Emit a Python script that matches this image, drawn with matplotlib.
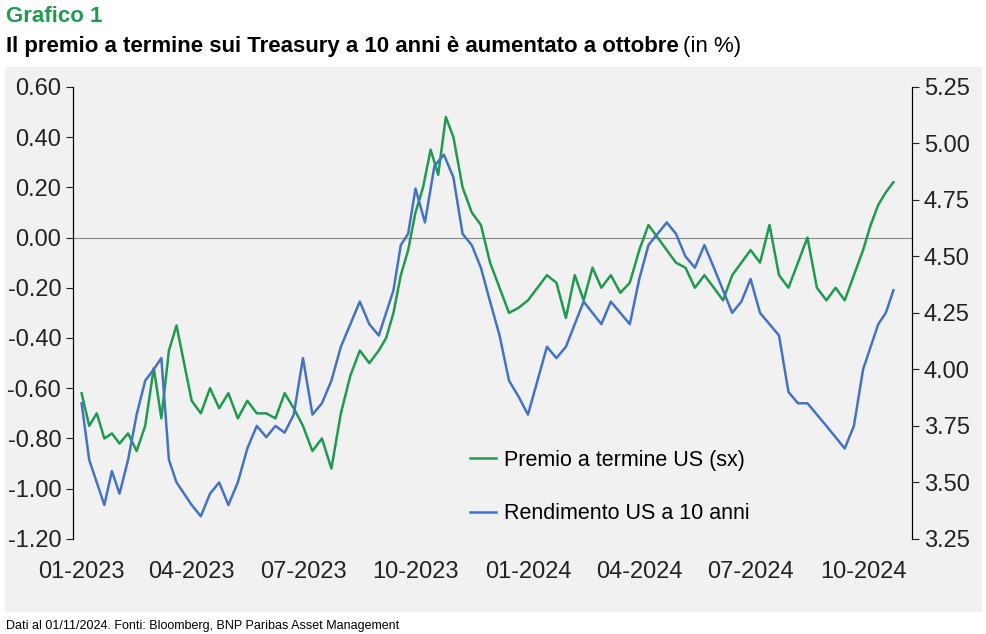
import matplotlib
matplotlib.use("Agg")
import matplotlib.pyplot as plt
import matplotlib.dates as mdates
import matplotlib.patches as mpatches
import pandas as pd

months = ["2023-01", "2023-02", "2023-03", "2023-04", "2023-05", "2023-06", "2023-07", "2023-08",
          "2023-09", "2023-10", "2023-11", "2023-12", "2024-01", "2024-02", "2024-03", "2024-04",
          "2024-05", "2024-06", "2024-07", "2024-08", "2024-09", "2024-10"]

premio = [
    [-0.62, -0.75, -0.70, -0.80, -0.78],
    [-0.82, -0.78, -0.85, -0.75],
    [-0.52, -0.72, -0.45, -0.35, -0.50],
    [-0.65, -0.70, -0.60, -0.68],
    [-0.62, -0.72, -0.65, -0.70],
    [-0.70, -0.72, -0.62, -0.68],
    [-0.75, -0.85, -0.80, -0.92],
    [-0.70, -0.55, -0.45, -0.50],
    [-0.45, -0.40, -0.30, -0.15, -0.05],
    [0.10, 0.20, 0.35, 0.25, 0.48],
    [0.40, 0.20, 0.10, 0.05],
    [-0.10, -0.20, -0.30, -0.28],
    [-0.25, -0.20, -0.15, -0.18],
    [-0.32, -0.15, -0.25, -0.12],
    [-0.20, -0.15, -0.22, -0.18],
    [-0.05, 0.05, 0.00, -0.05],
    [-0.10, -0.12, -0.20, -0.15],
    [-0.20, -0.25, -0.15, -0.10],
    [-0.05, -0.10, 0.05, -0.15],
    [-0.20, -0.10, 0.00, -0.20],
    [-0.25, -0.20, -0.25, -0.15],
    [-0.05, 0.05, 0.13, 0.18, 0.22],
]

rendimento = [
    [3.85, 3.60, 3.50, 3.40, 3.55],
    [3.45, 3.60, 3.80, 3.95],
    [4.00, 4.05, 3.60, 3.50, 3.45],
    [3.40, 3.35, 3.45, 3.50],
    [3.40, 3.50, 3.65, 3.75],
    [3.70, 3.75, 3.72, 3.80],
    [4.05, 3.80, 3.85, 3.95],
    [4.10, 4.20, 4.30, 4.20],
    [4.15, 4.25, 4.35, 4.55, 4.60],
    [4.80, 4.65, 4.90, 4.95],
    [4.85, 4.60, 4.55, 4.45],
    [4.30, 4.15, 3.95, 3.88],
    [3.80, 3.95, 4.10, 4.05],
    [4.10, 4.20, 4.30, 4.25],
    [4.20, 4.30, 4.25, 4.20],
    [4.40, 4.55, 4.60, 4.65],
    [4.60, 4.50, 4.45, 4.55],
    [4.45, 4.35, 4.25, 4.30],
    [4.40, 4.25, 4.20, 4.15],
    [3.90, 3.85, 3.85, 3.80],
    [3.75, 3.70, 3.65, 3.75],
    [4.00, 4.10, 4.20, 4.25, 4.35],
]

GREEN = "#1f9a4f"
BLUE = "#4472c4"


def spread(month, vals):
    start = pd.Timestamp(month + "-01")
    end = start + pd.offsets.MonthBegin(1)
    n = len(vals)
    return [start + (end - start) * (i / n) for i in range(n)]


def series(data):
    xs, ys = [], []
    for m, vals in zip(months, data):
        xs += spread(m, vals)
        ys += vals
    return xs, ys


plt.rcParams['font.family'] = ['Liberation Sans', 'DejaVu Sans']
fig = plt.figure(figsize=(9.87, 6.34), dpi=100)
fig.patches.append(mpatches.Rectangle((5, 634 - 612), 977, 545, transform=None,
                                      facecolor="#f1f1f1", edgecolor="none", zorder=-10))

ax = fig.add_axes([0.074, 0.15, 0.85, 0.713])
ax.patch.set_alpha(0)
ax2 = ax.twinx()
ax2.patch.set_alpha(0)

gx, gy = series(premio)
bx, by = series(rendimento)
l1, = ax.plot(gx, gy, color=GREEN, lw=1.8, label="Premio a termine US (sx)", zorder=3)
l2, = ax2.plot(bx, by, color=BLUE, lw=1.8, label="Rendimento US a 10 anni")
ax.axhline(0, color="#888888", lw=0.8)

ax.set_ylim(-1.2, 0.6)
ax.set_yticks([-1.2, -1.0, -0.8, -0.6, -0.4, -0.2, 0.0, 0.2, 0.4, 0.6])
ax.set_yticklabels(["%.2f" % v for v in ax.get_yticks()])
ax2.set_ylim(3.25, 5.25)
ax2.set_yticks([3.25, 3.5, 3.75, 4.0, 4.25, 4.5, 4.75, 5.0, 5.25])
ax2.set_yticklabels(["%.2f" % v for v in ax2.get_yticks()])

ax.set_xlim(pd.Timestamp("2022-12-25"), pd.Timestamp("2024-11-10"))
ax.xaxis.set_major_locator(mdates.MonthLocator(bymonth=[1, 4, 7, 10]))
ax.xaxis.set_major_formatter(mdates.DateFormatter("%m-%Y"))

for a in (ax, ax2):
    a.spines["top"].set_visible(False)
    a.spines["bottom"].set_visible(False)
    a.tick_params(labelsize=17, colors="#222222", length=5)
ax.tick_params(axis="x", length=0, pad=16)

ax.legend(handles=[l1, l2], loc="lower left", bbox_to_anchor=(0.45, -0.01),
          frameon=False, fontsize=15.5, labelspacing=1.5, handlelength=1.2,
          handletextpad=0.4)

fig.text(0.006, 0.965, "Grafico 1", color=GREEN, fontsize=16, fontweight="bold")
t = fig.text(0.006, 0.918, "Il premio a termine sui Treasury a 10 anni è aumentato a ottobre",
             fontsize=16, fontweight="bold")
fig.canvas.draw()
bb = t.get_window_extent()
fig.text(bb.x1 / fig.bbox.width + 0.004, 0.918, "(in %)", fontsize=16)
fig.text(0.006, 0.008, "Dati al 01/11/2024. Fonti: Bloomberg, BNP Paribas Asset Management", fontsize=9)

fig.savefig("out.png", dpi=100)
